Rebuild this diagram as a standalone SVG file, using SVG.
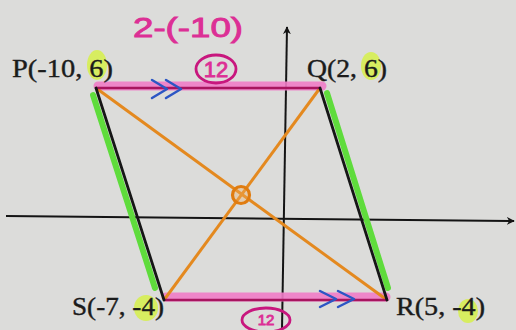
<svg xmlns="http://www.w3.org/2000/svg" width="516" height="330" viewBox="0 0 516 330">
  <defs>
    <style>
      .lbl { font-family: "Liberation Serif", "Times New Roman", serif; font-size: 26px; fill: #1b1b1b; stroke: #1b1b1b; stroke-width: 0.4; }
      .pink { font-family: "Liberation Sans", Arial, sans-serif; fill: #dc2f95; stroke: #dc2f95; stroke-width: 0.9; }
      .hl { fill: #d6f04a; opacity: 0.85; }
      .green { stroke: #5fdc3c; stroke-width: 6; stroke-linecap: round; fill: none; }
      .band { stroke: #f07cc6; stroke-width: 9; stroke-linecap: round; fill: none; opacity: 0.9; }
      .mag { stroke: #a8155f; stroke-width: 2.5; fill: none; }
      .edge { stroke: #161616; stroke-width: 2.8; fill: none; stroke-linecap: round; }
      .diag { stroke: #e4891f; stroke-width: 3; fill: none; }
      .chev { stroke: #2c56c4; stroke-width: 2.5; fill: none; stroke-linecap: round; stroke-linejoin: round; }
      .axis { stroke: #141414; stroke-width: 2; fill: none; }
      .circ { stroke: #c8177e; stroke-width: 2.8; fill: none; }
    </style>
    <marker id="arr" viewBox="0 0 10 10" refX="9" refY="5" markerWidth="8" markerHeight="8" orient="auto" markerUnits="userSpaceOnUse">
      <path d="M0,0 L10,5 L0,10 L3,5 Z" fill="#141414"/>
    </marker>
  </defs>

  <rect x="0" y="0" width="516" height="330" fill="#dcdcda"/>

  <!-- highlights behind labels -->
  <g id="highlights">
    <ellipse class="hl" cx="97" cy="65" rx="10" ry="15"/>
    <ellipse class="hl" cx="371" cy="66" rx="10" ry="14"/>
    <ellipse class="hl" cx="146" cy="308" rx="12" ry="13"/>
    <ellipse class="hl" cx="468" cy="311" rx="10" ry="12"/>
  </g>

  <!-- axes -->
  <g id="axes">
    <line class="axis" x1="282" y1="330" x2="287" y2="27" marker-end="url(#arr)"/>
    <line class="axis" x1="6" y1="216" x2="514" y2="221" marker-end="url(#arr)"/>
  </g>

  <!-- connectors: parallelogram sides and diagonals -->
  <g id="connectors">
    <line class="green" x1="93" y1="95" x2="155" y2="288"/>
    <line class="green" x1="327" y1="93" x2="388" y2="288"/>
    <line class="band" x1="98" y1="86" x2="322" y2="86"/>
    <line class="band" x1="166" y1="297" x2="386" y2="297"/>
    <line class="diag" x1="96" y1="88" x2="387" y2="300"/>
    <line class="diag" x1="320" y1="88" x2="164" y2="300"/>
    <line class="mag" x1="96" y1="88" x2="320" y2="88"/>
    <line class="mag" x1="164" y1="300" x2="387" y2="300"/>
    <line class="edge" x1="96" y1="88" x2="164" y2="300"/>
    <line class="edge" x1="320" y1="88" x2="387" y2="300"/>
    <circle cx="241" cy="195" r="8.5" stroke="#e07c10" stroke-width="3.2" fill="#f0b060" fill-opacity="0.35"/>
    <polyline class="chev" points="152,80 167,89 152,98"/>
    <polyline class="chev" points="166,80 181,89 166,98"/>
    <polyline class="chev" points="320,291 336,299 320,307"/>
    <polyline class="chev" points="338,291 354,299 338,307"/>
  </g>

  <!-- vertex labels -->
  <g id="P"><text class="lbl" x="12" y="77" textLength="101" lengthAdjust="spacingAndGlyphs">P(-10, 6)</text></g>
  <g id="Q"><text class="lbl" x="307" y="77" textLength="80" lengthAdjust="spacingAndGlyphs">Q(2, 6)</text></g>
  <g id="S"><text class="lbl" x="72" y="315" textLength="92" lengthAdjust="spacingAndGlyphs">S(-7, -4)</text></g>
  <g id="R"><text class="lbl" x="396" y="315" textLength="89" lengthAdjust="spacingAndGlyphs">R(5, -4)</text></g>

  <!-- pink annotations -->
  <g id="note-top">
    <text class="pink" x="133" y="37" font-size="27" textLength="110" lengthAdjust="spacingAndGlyphs">2-(-10)</text>
    <ellipse class="circ" cx="216" cy="69" rx="20" ry="14"/>
    <text class="pink" x="216" y="77" font-size="22" text-anchor="middle" fill="#c4177c" stroke="#c4177c">12</text>
  </g>
  <g id="note-bottom">
    <ellipse class="circ" cx="266" cy="320" rx="24" ry="12"/>
    <text class="pink" x="266" y="325" font-size="15" text-anchor="middle" fill="#c4177c" stroke="#c4177c">12</text>
  </g>
</svg>
